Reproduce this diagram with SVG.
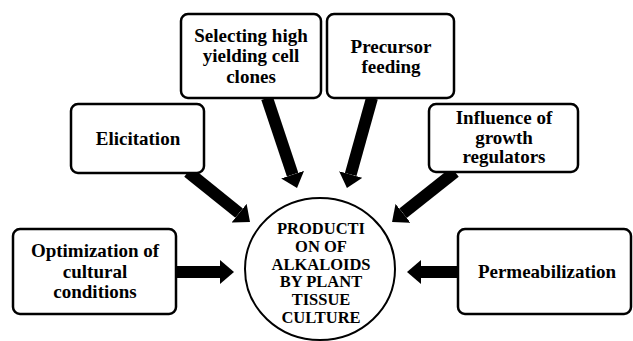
<svg xmlns="http://www.w3.org/2000/svg" width="633" height="341" viewBox="0 0 633 341">
<style>
.box{fill:#fff;stroke:#000;stroke-width:2.5}
text{font-family:"Liberation Serif","Times New Roman",serif;font-weight:700;text-anchor:middle;fill:#000}
.t{font-size:19px}
.c{font-size:16.5px}
.arr{stroke:#000;stroke-width:12;fill:none;marker-end:url(#ah)}
</style>
<defs>
<marker id="ah" markerUnits="userSpaceOnUse" markerWidth="14" markerHeight="24" refX="0" refY="12" orient="auto">
<path d="M0,0 L14,12 L0,24 z" fill="#000"/>
</marker>
</defs>
<rect width="633" height="341" fill="#fff"/>
<g id="connectors">
<line class="arr" x1="188" y1="172" x2="239.1" y2="213.2"/>
<line class="arr" x1="267" y1="98" x2="292.6" y2="174.7"/>
<line class="arr" x1="372" y1="98" x2="350.7" y2="174.5"/>
<line class="arr" x1="455" y1="172" x2="403" y2="213.3"/>
<line class="arr" x1="176" y1="272" x2="220" y2="272"/>
<line class="arr" x1="458" y1="272" x2="421" y2="272"/>
</g>
<g id="center">
<ellipse cx="320" cy="269" rx="75" ry="71" fill="#fff" stroke="#000" stroke-width="2"/>
<text class="c"><tspan x="321" y="234">PRODUCTI</tspan><tspan x="321" y="252">ON OF</tspan><tspan x="321" y="269.5">ALKALOIDS</tspan><tspan x="321" y="287">BY PLANT</tspan><tspan x="321" y="305">TISSUE</tspan><tspan x="321" y="322.5">CULTURE</tspan></text>
</g>
<g id="selecting">
<rect class="box" x="181" y="14" width="140" height="84" rx="7"/>
<text class="t"><tspan x="251" y="41.5">Selecting high</tspan><tspan x="251" y="62">yielding cell</tspan><tspan x="251" y="82.5">clones</tspan></text>
</g>
<g id="precursor">
<rect class="box" x="327" y="14" width="127" height="84" rx="7"/>
<text class="t"><tspan x="391" y="53">Precursor</tspan><tspan x="391" y="73">feeding</tspan></text>
</g>
<g id="elicitation">
<rect class="box" x="71" y="104" width="133" height="69" rx="7"/>
<text class="t" x="138" y="145">Elicitation</text>
</g>
<g id="influence">
<rect class="box" x="429" y="104" width="149" height="68" rx="7"/>
<text class="t"><tspan x="504" y="124">Influence of</tspan><tspan x="504" y="144">growth</tspan><tspan x="504" y="163">regulators</tspan></text>
</g>
<g id="optimization">
<rect class="box" x="13" y="229" width="163" height="85" rx="7"/>
<text class="t"><tspan x="95" y="257">Optimization of</tspan><tspan x="95" y="278">cultural</tspan><tspan x="95" y="298">conditions</tspan></text>
</g>
<g id="permeabilization">
<rect class="box" x="458" y="229" width="173" height="85" rx="7"/>
<text class="t" x="547" y="278">Permeabilization</text>
</g>
</svg>
